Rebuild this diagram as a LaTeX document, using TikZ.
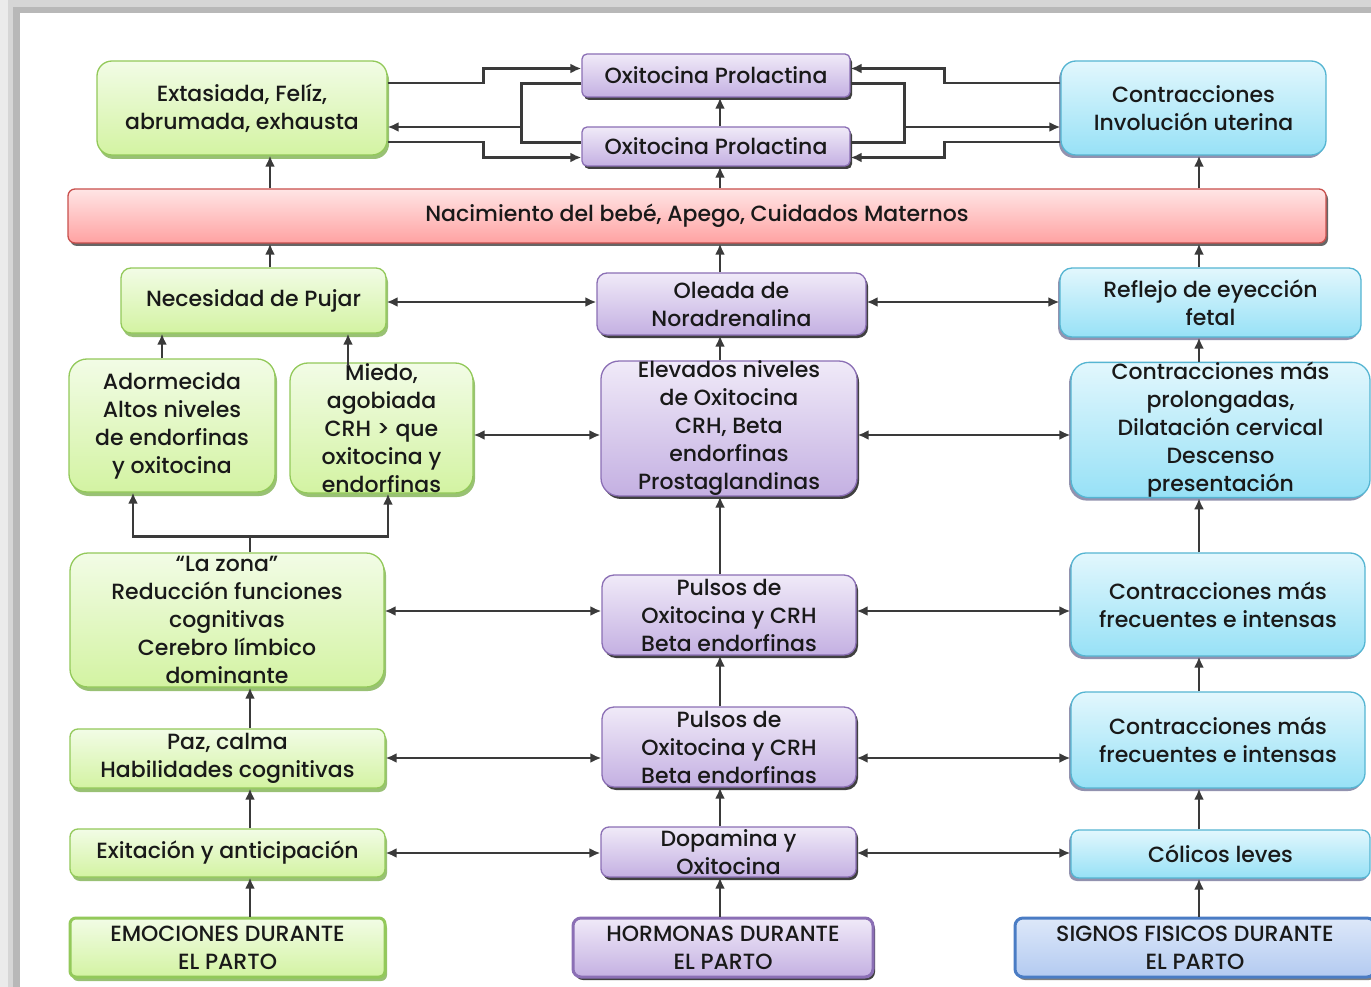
\documentclass[tikz,border=0pt]{standalone}
\usepackage{fontspec}
\setmainfont{Poppins}[UprightFont={* Medium}]
\usetikzlibrary{arrows.meta}
\usetikzlibrary{calc}
\usetikzlibrary{positioning, shadows}

\definecolor{verdeA}{HTML}{F2FCE6}
\definecolor{verdeC}{HTML}{D3F3A2}
\definecolor{verdeB}{HTML}{93C95A}
\definecolor{verdeS}{HTML}{6FA83A}
\definecolor{lilaA}{HTML}{F0EAF8}
\definecolor{lilaC}{HTML}{C4B0E2}
\definecolor{lilaB}{HTML}{8B6FB5}
\definecolor{celesteA}{HTML}{E2F7FD}
\definecolor{celesteC}{HTML}{97E1F6}
\definecolor{celesteB}{HTML}{55B5D2}
\definecolor{celesteS}{HTML}{4A4A7A}
\definecolor{rojoA}{HTML}{FFE5E5}
\definecolor{rojoC}{HTML}{FFA2A2}
\definecolor{rojoB}{HTML}{C9504D}
\definecolor{azulA}{HTML}{DDE8F9}
\definecolor{azulC}{HTML}{B3CAF1}
\definecolor{azulB}{HTML}{4A7CC4}
\definecolor{linea}{HTML}{3A3A3A}

\begin{document}
\begin{tikzpicture}[x=1pt, y=-1pt, >={Latex[length=11pt,width=10pt]},
    caja/.style={rounded corners=10pt, align=center, inner sep=0pt, line width=1.3pt,
      text=black!90, font=\fontsize{22}{28}\selectfont},
    emocion/.style={caja, draw=verdeB, top color=verdeA, bottom color=verdeC,
      drop shadow={shadow xshift=2pt, shadow yshift=-4pt, fill=verdeS, opacity=.7}},
    hormona/.style={caja, draw=lilaB, top color=lilaA, bottom color=lilaC,
      drop shadow={shadow xshift=2pt, shadow yshift=-3pt, fill=black, opacity=.75}},
    signo/.style={caja, draw=celesteB, top color=celesteA, bottom color=celesteC,
      drop shadow={shadow xshift=-2pt, shadow yshift=-3pt, fill=celesteS, opacity=.6}},
    nacer/.style={caja, draw=rojoB, top color=rojoA, bottom color=rojoC,
      drop shadow={shadow xshift=2pt, shadow yshift=-3pt, fill=black, opacity=.6}},
    flecha/.style={line width=2.8pt, draw=linea}]

\useasboundingbox (0,0) rectangle (1371,987);
\fill[black!8] (0,0) rectangle (1371,987);
\fill[black!16] (8,0) rectangle (1371,987);
\fill[black!28] (13,7) rectangle (1371,987);
\fill[white] (20,13) rectangle (1371,987);

\coordinate (c1) at (270,0);
\coordinate (lc) at (250,0);
\coordinate (mc) at (720,0);
\coordinate (rc) at (1199,0);
\coordinate (a1) at (162,0);
\coordinate (a2) at (133,0);
\coordinate (m1) at (348,0);
\coordinate (m2) at (388,0);
\coordinate (r1) at (0,302);
\coordinate (r2) at (0,435);
\coordinate (r3) at (0,611);
\coordinate (r4) at (0,758);
\coordinate (r5) at (0,853);

\node[emocion, minimum width=290pt, minimum height=94pt, rounded corners=15pt] (ext) at (242,108) {Extasiada, Felíz,\\abrumada, exhausta};
\node[hormona, minimum width=268pt, minimum height=43pt, rounded corners=5pt] (oxA) at (716,75.5) {Oxitocina Prolactina};
\node[hormona, minimum width=268pt, minimum height=39pt, rounded corners=5pt] (oxB) at (716,146.5) {Oxitocina Prolactina};
\node[signo, minimum width=265pt, minimum height=94pt, rounded corners=15pt] (cont) at (1193.5,108) {Contracciones\\Involución uterina};
\node[nacer, minimum width=1258pt, minimum height=54pt, rounded corners=7pt] (nac) at (697,216) {Nacimiento del bebé, Apego, Cuidados Maternos};

\node[emocion, minimum width=265pt, minimum height=65pt] (nec) at (253.5,300.5) {Necesidad de Pujar};
\node[hormona, minimum width=269pt, minimum height=62pt] (ole) at (731.5,304) {Oleada de\\Noradrenalina};
\node[signo, minimum width=301pt, minimum height=69pt, rounded corners=12pt] (ref) at (1210.5,302.5) {Reflejo de eyección\\fetal};

\node[emocion, minimum width=206pt, minimum height=133pt, rounded corners=18pt] (ado) at (172,425.5) {Adormecida\\Altos niveles\\de endorfinas\\y oxitocina};
\node[emocion, minimum width=183pt, minimum height=130pt, rounded corners=18pt] (mie) at (381.5,428) {Miedo,\\agobiada\\CRH > que\\oxitocina y\\endorfinas};
\node[hormona, minimum width=256pt, minimum height=131pt, rounded corners=18pt] (ele) at (729,428.5) {Elevados niveles\\de Oxitocina\\CRH, Beta\\endorfinas\\Prostaglandinas};
\node[signo, minimum width=299pt, minimum height=134pt, rounded corners=18pt] (cpr) at (1220.5,430) {Contracciones más\\prolongadas,\\Dilatación cervical\\Descenso\\presentación};

\node[emocion, minimum width=314pt, minimum height=134pt, rounded corners=18pt] (zon) at (227,620) {“La zona”\\Reducción funciones\\cognitivas\\Cerebro límbico\\dominante};
\node[hormona, minimum width=254pt, minimum height=80pt, rounded corners=12pt] (pu1) at (729,615) {Pulsos de\\Oxitocina y CRH\\Beta endorfinas};
\node[signo, minimum width=294pt, minimum height=103pt, rounded corners=15pt] (cf1) at (1218,604.5) {Contracciones más\\frecuentes e intensas};

\node[emocion, minimum width=315pt, minimum height=59pt, rounded corners=8pt] (paz) at (227.5,758.5) {Paz, calma\\Habilidades cognitivas};
\node[hormona, minimum width=254pt, minimum height=80pt, rounded corners=12pt] (pu2) at (729,747) {Pulsos de\\Oxitocina y CRH\\Beta endorfinas};
\node[signo, minimum width=294pt, minimum height=96pt, rounded corners=15pt] (cf2) at (1218,740) {Contracciones más\\frecuentes e intensas};

\node[emocion, minimum width=315pt, minimum height=48pt, rounded corners=8pt] (exi) at (227.5,853) {Exitación y anticipación};
\node[hormona, minimum width=255pt, minimum height=50pt, rounded corners=8pt] (dop) at (728.5,852) {Dopamina y\\Oxitocina};
\node[signo, minimum width=299pt, minimum height=48pt, rounded corners=8pt] (col) at (1220.5,854) {Cólicos leves};

\node[emocion, minimum width=315pt, minimum height=59pt, rounded corners=6pt, line width=3pt] (emo) at (227.5,947.5) {EMOCIONES DURANTE\\EL PARTO};
\node[hormona, minimum width=300pt, minimum height=59pt, rounded corners=8pt, line width=3pt] (hor) at (723,947.5) {HORMONAS DURANTE\\EL PARTO};
\node[caja, draw=azulB, top color=azulA, bottom color=azulC, line width=3pt,
  drop shadow={shadow xshift=2pt, shadow yshift=-3pt, fill=black, opacity=.5},
  minimum width=360pt, minimum height=59pt, rounded corners=8pt] (sig) at (1195,947.5) {SIGNOS FISICOS DURANTE\\EL PARTO};

\draw[flecha, ->] ($(ext.east)+(0,-25)$) -- ++(96,0) |- ($(oxA.west)+(0,-7)$);
\draw[flecha, ->] ($(ext.east)+(0,34)$) -- ++(96,0) |- ($(oxB.west)+(0,11)$);
\draw[flecha] ($(oxA.west)+(0,8)$) -- ++(-60,0) |- ($(oxB.west)+(0,-4)$);
\draw[flecha, ->] ($(ext.east)+(135,19)$) -- ($(ext.east)+(0,19)$);
\draw[flecha, ->] ($(cont.west)+(0,-25)$) -- ++(-116,0) |- ($(oxA.east)+(0,-7)$);
\draw[flecha, ->] ($(cont.west)+(0,34)$) -- ++(-116,0) |- ($(oxB.east)+(0,11)$);
\draw[flecha] ($(oxA.east)+(0,8)$) -- ++(54,0) |- ($(oxB.east)+(0,-4)$);
\draw[flecha, ->] ($(cont.west)+(-157,19)$) -- ($(cont.west)+(0,19)$);

\draw[flecha, ->] (oxB.north -| mc) -- (oxA.south -| mc);
\draw[flecha, ->] (nac.north -| mc) -- (oxB.south -| mc);
\draw[flecha, ->] (nac.north -| c1) -- (ext.south -| c1);
\draw[flecha, ->] (nac.north -| rc) -- (cont.south -| rc);
\draw[flecha, ->] (nec.north -| c1) -- (nac.south -| c1);
\draw[flecha, ->] (ole.north -| mc) -- (nac.south -| mc);
\draw[flecha, ->] (ref.north -| rc) -- (nac.south -| rc);

\draw[flecha, <->] (nec.east |- r1) -- (ole.west |- r1);
\draw[flecha, <->] (ole.east |- r1) -- (ref.west |- r1);
\draw[flecha, <->] (mie.east |- r2) -- (ele.west |- r2);
\draw[flecha, <->] (ele.east |- r2) -- (cpr.west |- r2);
\draw[flecha, <->] (zon.east |- r3) -- (pu1.west |- r3);
\draw[flecha, <->] (pu1.east |- r3) -- (cf1.west |- r3);
\draw[flecha, <->] (paz.east |- r4) -- (pu2.west |- r4);
\draw[flecha, <->] (pu2.east |- r4) -- (cf2.west |- r4);
\draw[flecha, <->] (exi.east |- r5) -- (dop.west |- r5);
\draw[flecha, <->] (dop.east |- r5) -- (col.west |- r5);

\draw[flecha, ->] (ado.north -| a1) -- (nec.south -| a1);
\draw[flecha, ->] ($(mie.north -| m1)+(0,4)$) -- (nec.south -| m1);
\draw[flecha] (zon.north -| lc) -- ++(0,-16) coordinate (horq);
\draw[flecha, ->] (horq) -| (ado.south -| a2);
\draw[flecha, ->] (horq) -| (mie.south -| m2);
\draw[flecha, ->] (paz.north -| lc) -- (zon.south -| lc);
\draw[flecha, ->] (exi.north -| lc) -- (paz.south -| lc);
\draw[flecha, ->] (emo.north -| lc) -- (exi.south -| lc);

\draw[flecha, ->] (ele.north -| mc) -- (ole.south -| mc);
\draw[flecha, ->] (pu1.north -| mc) -- (ele.south -| mc);
\draw[flecha, ->] (pu2.north -| mc) -- (pu1.south -| mc);
\draw[flecha, ->] (dop.north -| mc) -- (pu2.south -| mc);
\draw[flecha, ->] (hor.north -| mc) -- (dop.south -| mc);

\draw[flecha, ->] (cpr.north -| rc) -- (ref.south -| rc);
\draw[flecha, ->] (cf1.north -| rc) -- (cpr.south -| rc);
\draw[flecha, ->] (cf2.north -| rc) -- (cf1.south -| rc);
\draw[flecha, ->] (col.north -| rc) -- (cf2.south -| rc);
\draw[flecha, ->] (sig.north -| rc) -- (col.south -| rc);
\end{tikzpicture}
\end{document}
